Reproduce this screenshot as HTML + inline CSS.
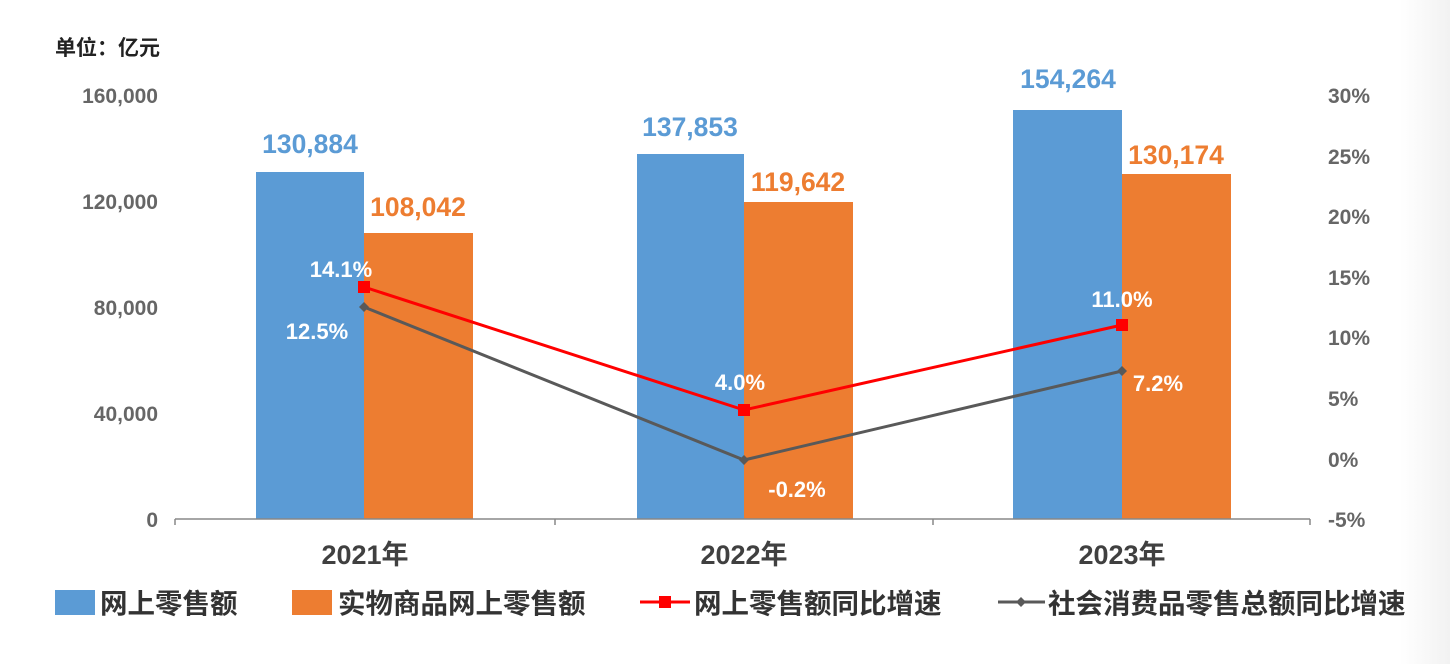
<!DOCTYPE html>
<html><head><meta charset="utf-8"><style>
body{margin:0;background:#fff;}
svg{display:block;font-family:"Liberation Sans","Noto Sans CJK SC",sans-serif;font-weight:bold;}
</style></head><body>
<svg width="1450" height="664" viewBox="0 0 1450 664">
<defs><linearGradient id="g" x1="0" x2="1"><stop offset="0" stop-color="#fff"/><stop offset="1" stop-color="#f2f2f2"/></linearGradient></defs>
<rect x="1400" y="0" width="50" height="664" fill="url(#g)"/>
<text x="55" y="55" font-size="21" fill="#222">单位：亿元</text>
<g font-size="21" fill="#666" text-anchor="end">
<text x="158" y="103">160,000</text>
<text x="158" y="209">120,000</text>
<text x="158" y="315">80,000</text>
<text x="158" y="421">40,000</text>
<text x="158" y="527">0</text>
</g>
<g font-size="21" fill="#666">
<text x="1328" y="103">30%</text><text x="1328" y="164">25%</text><text x="1328" y="224">20%</text>
<text x="1328" y="285">15%</text><text x="1328" y="345">10%</text><text x="1328" y="406">5%</text>
<text x="1328" y="467">0%</text><text x="1328" y="527">-5%</text>
</g>
<rect x="256" y="172" width="108" height="347" fill="#5b9bd5"/>
<rect x="364" y="233" width="109" height="286" fill="#ed7d31"/>
<rect x="637" y="154" width="107" height="365" fill="#5b9bd5"/>
<rect x="744" y="202" width="109" height="317" fill="#ed7d31"/>
<rect x="1013" y="110" width="109" height="409" fill="#5b9bd5"/>
<rect x="1122" y="174" width="109" height="345" fill="#ed7d31"/>
<path d="M175 519H1310M175 519v6M555 519v6M933 519v6M1310 519v6" stroke="#888" stroke-width="1.5" fill="none"/>
<g font-size="26.5" text-anchor="middle">
<text x="310" y="153" fill="#5b9bd5">130,884</text>
<text x="418" y="216" fill="#ed7d31">108,042</text>
<text x="690" y="136" fill="#5b9bd5">137,853</text>
<text x="798" y="191" fill="#ed7d31">119,642</text>
<text x="1068" y="88" fill="#5b9bd5">154,264</text>
<text x="1176" y="164" fill="#ed7d31">130,174</text>
</g>
<polyline points="364,307 744,460 1122,371" stroke="#595959" stroke-width="3" fill="none"/>
<g fill="#595959"><path d="M364 302l5 5-5 5-5-5z"/><path d="M744 455l5 5-5 5-5-5z"/><path d="M1122 366l5 5-5 5-5-5z"/></g>
<polyline points="364,287 744,410 1122,325" stroke="#ff0000" stroke-width="3" fill="none"/>
<g fill="#ff0000"><rect x="358" y="281" width="12" height="12"/><rect x="738" y="404" width="12" height="12"/><rect x="1116" y="319" width="12" height="12"/></g>
<g font-size="22" fill="#fff" text-anchor="middle">
<text x="341" y="277">14.1%</text>
<text x="317" y="339">12.5%</text>
<text x="740" y="390">4.0%</text>
<text x="797" y="497">-0.2%</text>
<text x="1122" y="307">11.0%</text>
<text x="1158" y="391">7.2%</text>
</g>
<g font-size="27" fill="#404040" text-anchor="middle">
<text x="365" y="564">2021年</text>
<text x="744" y="564">2022年</text>
<text x="1122" y="564">2023年</text>
</g>
<rect x="55" y="590" width="40" height="25" fill="#5b9bd5"/>
<rect x="292" y="590" width="40" height="25" fill="#ed7d31"/>
<line x1="640" y1="602" x2="690" y2="602" stroke="#ff0000" stroke-width="3"/>
<rect x="659" y="596" width="12" height="12" fill="#ff0000"/>
<line x1="998" y1="602" x2="1045" y2="602" stroke="#595959" stroke-width="3"/>
<path d="M1021 597l5 5-5 5-5-5z" fill="#595959"/>
<g font-size="27.5" fill="#333">
<text x="100" y="613">网上零售额</text>
<text x="338" y="613">实物商品网上零售额</text>
<text x="694" y="613">网上零售额同比增速</text>
<text x="1048" y="613">社会消费品零售总额同比增速</text>
</g>
</svg>
</body></html>
